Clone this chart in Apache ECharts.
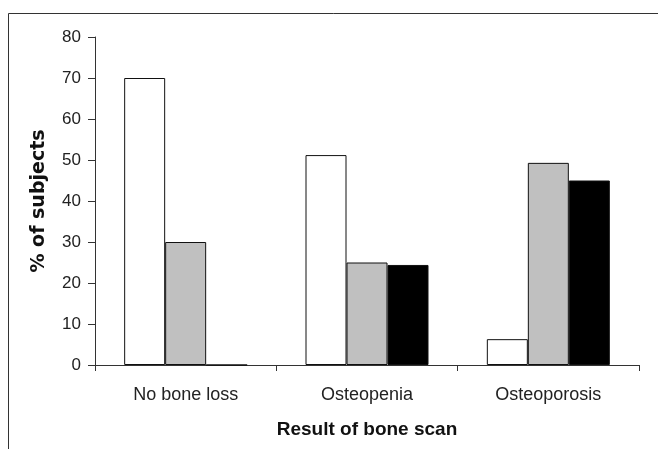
<!DOCTYPE html>
<html>
<head>
<meta charset="utf-8">
<script src="https://cdn.jsdelivr.net/npm/echarts@6/dist/echarts.min.js"></script>
<style>
  html, body { margin: 0; padding: 0; background: #fff; }
  #chart { width: 658px; height: 449px; }
</style>
</head>
<body>
<div id="chart"></div>
<script>
const categories = ['No bone loss', 'Osteopenia', 'Osteoporosis']
const whiteValues = [70, 51.2, 6.3]
const grayValues = [30, 25, 49.3]
const blackValues = [0, 24.4, 45]

const chart = echarts.init(document.getElementById('chart'))
const font = 'Liberation Sans, Arial, sans-serif'

function barSeries(values, color) {
  return {
    type: 'bar',
    data: values,
    barWidth: 41,
    barGap: '0%',
    itemStyle: {
      color: color,
      borderColor: '#111',
      borderWidth: 1
    },
    silent: true
  }
}

chart.setOption({
  animation: false,
  graphic: [
    {
      type: 'rect',
      shape: { x: 8.5, y: 13.5, width: 700, height: 500 },
      style: { fill: 'none', stroke: '#333', lineWidth: 1 },
      silent: true
    }
  ],
  grid: {
    left: 95,
    top: 37,
    right: 19,
    bottom: 84
  },
  xAxis: {
    type: 'category',
    data: categories,
    name: 'Result of bone scan',
    nameLocation: 'middle',
    nameGap: 55,
    nameTextStyle: {
      fontFamily: font,
      fontWeight: 'bold',
      fontSize: 19,
      color: '#111'
    },
    axisLine: { lineStyle: { color: '#333', width: 1 } },
    axisTick: { show: true, length: 6, lineStyle: { color: '#333' } },
    axisLabel: {
      fontFamily: font,
      fontSize: 18,
      color: '#222',
      margin: 21
    }
  },
  yAxis: {
    type: 'value',
    min: 0,
    max: 80,
    interval: 10,
    name: '% of subjects',
    nameLocation: 'middle',
    nameGap: 46,
    nameTextStyle: {
      fontFamily: 'DejaVu Sans, sans-serif',
      fontWeight: 'bold',
      fontSize: 19,
      color: '#111'
    },
    axisLine: { show: true, lineStyle: { color: '#333', width: 1 } },
    axisTick: { show: true, length: 7, lineStyle: { color: '#333' } },
    axisLabel: {
      fontFamily: font,
      fontSize: 17,
      color: '#222',
      margin: 14
    },
    splitLine: { show: false }
  },
  series: [
    barSeries(whiteValues, '#ffffff'),
    barSeries(grayValues, '#c0c0c0'),
    barSeries(blackValues, '#000000')
  ]
})
</script>
</body>
</html>
